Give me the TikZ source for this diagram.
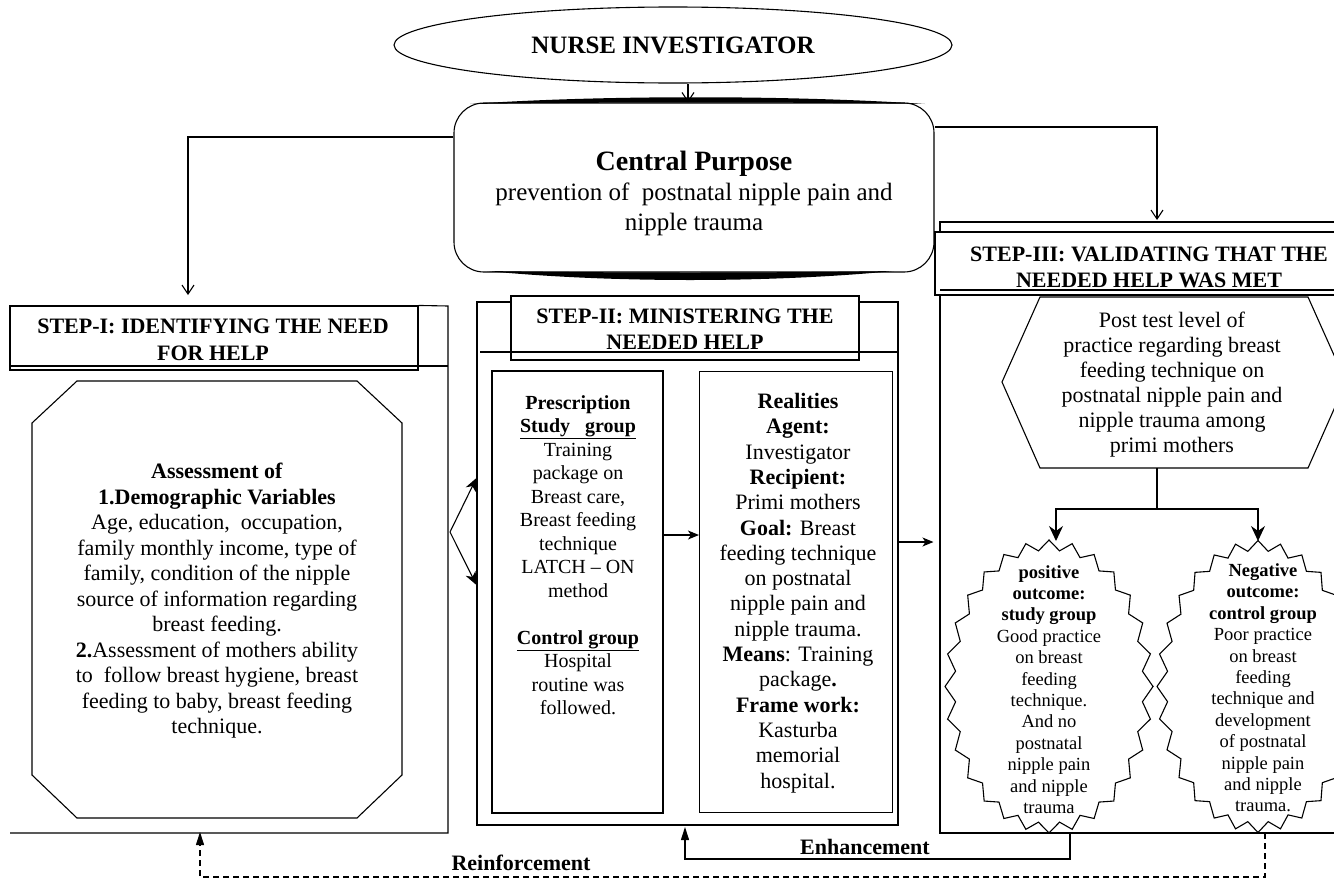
\documentclass[tikz,border=0pt]{standalone}
\usepackage{fontspec}
\setmainfont{Liberation Serif}
\usetikzlibrary{arrows.meta,shapes.geometric}

\tikzset{
  box/.style={draw},
  head/.style={align=center,inner sep=0pt,font=\bfseries\fontsize{22}{26.5}\selectfont},
  body/.style={align=center,inner sep=0pt,font=\fontsize{22}{25.5}\selectfont},
  pres/.style={align=center,inner sep=0pt,font=\fontsize{20}{23.5}\selectfont},
  real/.style={align=center,inner sep=0pt,font=\fontsize{22}{25.3}\selectfont},
  startext/.style={align=center,inner sep=0pt,font=\fontsize{18.5}{21.4}\selectfont},
  tipV/.style={-{Straight Barb[length=9pt,width=12pt]}},
  tipS/.style={-{Stealth[length=15pt,width=14pt,inset=5pt]}},
  tipF/.style={-{Stealth[length=13pt,width=11pt,inset=4pt]}},
  tipB/.style={-{Stealth[length=11pt,width=9pt,inset=3pt]}},
  tipT/.style={-{Triangle[length=13pt,width=8pt]}}
}

\begin{document}
\begin{tikzpicture}[x=1pt,y=-1pt,line width=1.1pt]
  \useasboundingbox (0,0) rectangle (1334,881);

  \node[ellipse,draw,minimum width=558,minimum height=76,inner sep=0pt,
        font=\bfseries\fontsize{25}{30}\selectfont] (nurse) at (673,45) {NURSE INVESTIGATOR};

  \node[draw,rounded corners=30,minimum width=480,minimum height=169] (cp) at (694,187.5) {};
  \node[align=center,inner sep=0pt,font=\fontsize{25}{30}\selectfont] (cptext) at (694,193)
    {{\bfseries\fontsize{28}{32}\selectfont Central Purpose}\\prevention of\ \ postnatal nipple pain and\\nipple trauma};
  \fill (470,104) .. controls (600,95) and (790,95) .. (925,104)
        .. controls (790,102) and (600,102) .. (470,104) -- cycle;
  \fill (487,271) .. controls (610,283) and (770,283) .. (894,271)
        .. controls (770,273) and (610,273) .. (487,271) -- cycle;

  \coordinate (oneIn) at (188,295);
  \coordinate (threeIn) at (1157,220);
  \draw[tipV] (nurse.south -| 688,0) -- (cp.north -| 688,0);
  \draw[tipV] (cp.west |- 0,137) -| (oneIn);
  \draw[tipV] (cp.east |- 0,127) -| (threeIn);

  % step I
  \node[draw,minimum width=408,minimum height=64] (onehead) at (214,338) {};
  \node[head] (onetext) at (213,340) {STEP-I: IDENTIFYING THE NEED\\FOR HELP};
  \draw (onehead.north east) -- (448,306) -- (448,833) -- (10,833);
  \draw[line width=2.5pt] (10,366) -- (448,366);
  \draw (77,381) -- (357,381) -- (402,423) -- (402,775) -- (357,818)
        -- (77,818) -- (32,775) -- (32,423) -- cycle;
  \node[body] (assess) at (217,601)
    {\textbf{Assessment of}\\\textbf{1.Demographic Variables}\\Age, education,\ \ occupation,\\
     family monthly income, type of\\family, condition of the nipple\\
     source of information regarding\\breast feeding.\\
     \textbf{2.}Assessment of mothers ability\\to\ \ follow breast hygiene, breast\\
     feeding to baby, breast feeding\\technique.};

  % step II
  \node[draw,minimum width=421,minimum height=523] (steptwo) at (687.5,563.5) {};
  \node[draw,fill=white,minimum width=348,minimum height=64] (twohead) at (685,328) {};
  \node[head] (twotext) at (685,329) {STEP-II: MINISTERING THE\\NEEDED HELP};
  \draw[line width=2.5pt] (480,352) -- (898,352);
  \node[draw,minimum width=171,minimum height=442] (presbox) at (577.5,592) {};
  \node[pres] (prestext) at (578,555)
    {\textbf{Prescription}\\\underline{\textbf{Study\ \ \ group}}\\Training\\package on\\
     Breast care,\\Breast feeding\\technique\\LATCH -- ON\\method\\[23.5pt]
     \underline{\textbf{Control group}}\\Hospital\\routine was\\followed.};
  \node[draw,minimum width=193,minimum height=441] (realbox) at (796,592) {};
  \node[real] (realtext) at (798,593)
    {\textbf{Realities}\\\textbf{Agent:}\\Investigator\\\textbf{Recipient:}\\Primi mothers\\
     \textbf{Goal:} Breast\\feeding technique\\on postnatal\\nipple pain and\\nipple trauma.\\
     \textbf{Means}: Training\\package\textbf{.}\\\textbf{Frame work:}\\Kasturba\\memorial\\hospital.};

  \coordinate (fork) at (450,532);
  \draw[tipF] (fork) -- (steptwo.west |- 0,478);
  \draw[tipF] (fork) -- (steptwo.west |- 0,585);
  \draw[tipB] (presbox.east |- 0,535) -- (realbox.west |- 0,535);

  % step III
  \node[draw,minimum width=405,minimum height=611] (stepthree) at (1142.5,527.5) {};
  \node[draw,fill=white,minimum width=410,minimum height=63] (threehead) at (1140,263.5) {};
  \node[head] (threetext) at (1149,267.5) {STEP-III: VALIDATING THAT THE\\NEEDED HELP WAS MET};
  \draw[line width=2.5pt] (940,290) -- (1345,290);
  \draw[tipB,shorten >=6pt] (steptwo.east |- 0,542) -- (stepthree.west |- 0,542);

  \draw (1040,297) -- (1308,297) -- (1346,382) -- (1308,468) -- (1040,468) -- (1002,382) -- cycle;
  \node[body,font=\fontsize{22}{25}\selectfont] (post) at (1172,384.5)
    {Post test level of\\practice regarding breast\\feeding technique on\\
     postnatal nipple pain and\\nipple trauma among\\primi mothers};

  \coordinate (hexbot) at (1157,468);
  \coordinate (split) at (1157,509);
  \coordinate (posTop) at (1056,541);
  \coordinate (negTop) at (1258,541);
  \draw (hexbot) -- (split);
  \draw[tipS] (split) -| (posTop);
  \draw[tipS] (split) -| (negTop);

  \draw plot[domain=0:360,samples=57]
    ({1049+(104-10*mod(round(\x/6.4285714),2))*cos(\x)},{686.5+(146.5-10*mod(round(\x/6.4285714),2))*sin(\x)}) -- cycle;
  \draw plot[domain=0:360,samples=57]
    ({1258+(101-10*mod(round(\x/6.4285714),2))*cos(\x)},{686.5+(146-10*mod(round(\x/6.4285714),2))*sin(\x)}) -- cycle;
  \node[startext] (pos) at (1049,689.5)
    {\textbf{positive}\\\textbf{outcome:}\\\textbf{study group}\\Good practice\\on breast\\
     feeding\\technique.\\And no\\postnatal\\nipple pain\\and nipple\\trauma};
  \node[startext] (neg) at (1263,688)
    {\textbf{Negative}\\\textbf{outcome:}\\\textbf{control group}\\Poor practice\\on breast\\
     feeding\\technique and\\development\\of postnatal\\nipple pain\\and nipple\\trauma.};

  % feedback
  \coordinate (posBot) at (1070,833);
  \coordinate (negBot) at (1265,833);
  \coordinate (twoBack) at (685,827);
  \coordinate (oneBack) at (200,832);
  \draw[tipT] (posBot) -- (1070,859) -| (twoBack);
  \draw[tipT,dash pattern=on 6pt off 4pt] (negBot) -- (1265,877) -| (oneBack);
  \node[head] (enh) at (865,847) {Enhancement};
  \node[head] (reinf) at (521,863) {Reinforcement};
\end{tikzpicture}
\end{document}
